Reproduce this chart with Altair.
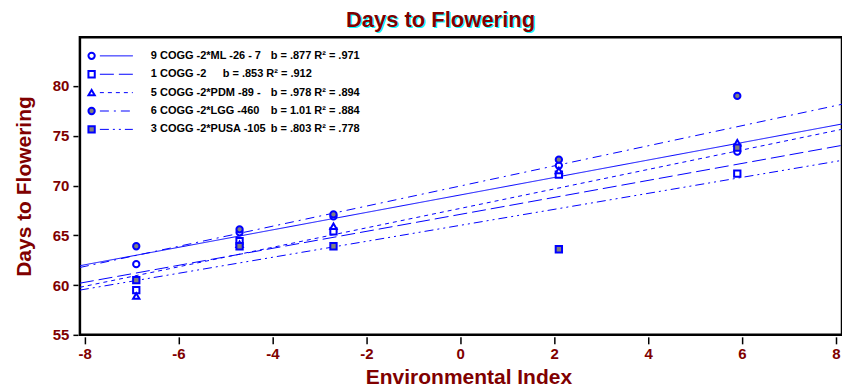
import altair as alt
import pandas as pd

# ---------------- data ----------------
env_index = [-6.9, -4.7, -2.7, 2.1, 5.9]
series_labels = [
    "9 COGG -2*ML -26 - 7",
    "1 COGG -2",
    "5 COGG -2*PDM -89 -",
    "6 COGG -2*LGG -460",
    "3 COGG -2*PUSA -105",
]
stat_labels = [
    "b =  .877  R\u00b2 =  .971",
    "b =  .853  R\u00b2 =  .912",
    "b =  .978  R\u00b2 =  .894",
    "b =  1.01  R\u00b2 =  .884",
    "b =  .803  R\u00b2 =  .778",
]
days_ml = [62.1, 65.3, 66.9, 72.0, 73.4]
days_cogg1 = [59.5, 64.4, 65.4, 71.1, 71.2]
days_pdm = [58.9, 64.1, 65.9, 71.5, 74.3]
days_lgg = [63.9, 65.6, 67.1, 72.6, 79.0]
days_pusa = [60.5, 63.9, 63.9, 63.6, 73.8]
slopes = [0.877, 0.853, 0.978, 1.01, 0.803]
intercepts = [69.05, 67.1, 67.7, 69.95, 66.0]
x_ticks = [-8, -6, -4, -2, 0, 2, 4, 6, 8]
y_ticks = [55, 60, 65, 70, 75, 80]

# ---------------- styles ----------------
x_domain = [-8.1, 8.13]
y_domain = [55, 84.9]
BLUE = "#0000ff"
RED = "#800000"
FONT = "Liberation Sans Narrow, Arial Narrow, Liberation Sans, sans-serif"
shapes = ["circle", "square", "triangle-up", "circle", "square"]
fills = ["white", "white", "white", "#808080", "#808080"]
dashes = [[1, 0], [14, 5], [4, 4], [9, 5, 2, 5], [9, 4, 2, 4, 2, 4]]
stat_x = [191, 143, 191, 191, 191]
HYPHEN_LABEL = "datum.value < 0 ? '-' + abs(datum.value) : '' + datum.value"

all_days = [days_ml, days_cogg1, days_pdm, days_lgg, days_pusa]
pts_rows = []
for name, vals in zip(series_labels, all_days):
    for xv, yv in zip(env_index, vals):
        pts_rows.append({"series": name, "x": xv, "y": yv})
points_df = pd.DataFrame(pts_rows)

line_rows = []
for name, a, b in zip(series_labels, intercepts, slopes):
    for xv in x_domain:
        line_rows.append({"series": name, "x": xv, "y": a + b * xv})
lines_df = pd.DataFrame(line_rows)

legend_df = pd.DataFrame({
    "row": list(range(len(series_labels))),
    "series": series_labels,
    "stat": stat_labels,
    "stat_x": stat_x,
})

xscale = alt.Scale(domain=x_domain, nice=False, zero=False)
yscale = alt.Scale(domain=y_domain, nice=False, zero=False)
shape_scale = alt.Scale(domain=series_labels, range=shapes)
fill_scale = alt.Scale(domain=series_labels, range=fills)
dash_scale = alt.Scale(domain=series_labels, range=dashes)
row_scale = alt.Scale(domain=[0, 4], range=[18.7, 92.3])

xaxis = alt.Axis(values=x_ticks, grid=False, domain=False, tickColor="black",
                 tickSize=7, tickWidth=1.5, offset=2, labelFont=FONT,
                 labelFontSize=15, labelFontWeight="bold", labelColor=RED,
                 labelPadding=3, labelExpr=HYPHEN_LABEL, titleFont=FONT,
                 titleFontSize=21, titleFontWeight="bold", titleColor=RED,
                 titlePadding=5, titleX=389)
yaxis = alt.Axis(values=y_ticks, grid=False, domain=False, tickColor="black",
                 tickSize=5, tickWidth=1.5, offset=2, labelFont=FONT,
                 labelFontSize=15, labelFontWeight="bold", labelColor=RED,
                 labelPadding=4, titleFont=FONT, titleFontSize=21,
                 titleFontWeight="bold", titleColor=RED, titlePadding=18)

lines = alt.Chart(lines_df).mark_line(color=BLUE, strokeWidth=1, clip=True).encode(
    x=alt.X("x:Q", scale=xscale, axis=None),
    y=alt.Y("y:Q", scale=yscale, axis=None),
    strokeDash=alt.StrokeDash("series:N", scale=dash_scale, legend=None),
)

points = alt.Chart(points_df).mark_point(filled=True, size=40, stroke=BLUE,
                                        strokeWidth=2, opacity=1).encode(
    x=alt.X("x:Q", scale=xscale, axis=xaxis, title="Environmental Index"),
    y=alt.Y("y:Q", scale=yscale, axis=yaxis, title="Days to Flowering"),
    shape=alt.Shape("series:N", scale=shape_scale, legend=None),
    fill=alt.Fill("series:N", scale=fill_scale, legend=None),
)

leg_marks = alt.Chart(legend_df).mark_point(filled=True, size=40, stroke=BLUE,
                                           strokeWidth=2, opacity=1).encode(
    x=alt.value(11.7),
    y=alt.Y("row:Q", scale=row_scale, axis=None),
    shape=alt.Shape("series:N", scale=shape_scale, legend=None),
    fill=alt.Fill("series:N", scale=fill_scale, legend=None),
)
leg_lines = alt.Chart(legend_df).mark_rule(color=BLUE, strokeWidth=1).encode(
    x=alt.value(20), x2=alt.value(53),
    y=alt.Y("row:Q", scale=row_scale, axis=None),
    strokeDash=alt.StrokeDash("series:N", scale=dash_scale, legend=None),
)
leg_text = alt.Chart(legend_df).mark_text(align="left", baseline="middle", font=FONT,
                                         fontSize=11, fontWeight="bold",
                                         color="black").encode(
    x=alt.value(71),
    y=alt.Y("row:Q", scale=row_scale, axis=None),
    text="series:N",
)
leg_stats = alt.Chart(legend_df).mark_text(align="left", baseline="middle", font=FONT,
                                          fontSize=11, fontWeight="bold",
                                          color="black").encode(
    x=alt.X("stat_x:Q", scale=None, axis=None),
    y=alt.Y("row:Q", scale=row_scale, axis=None),
    text="stat:N",
)

title_df = pd.DataFrame({"t": ["Days to Flowering"]})
title_shadow = alt.Chart(title_df).mark_text(align="center", baseline="top",
                                            font=FONT, fontSize=22, fontWeight="bold",
                                            color="#00ffff", dx=1, dy=1).encode(
    x=alt.value(361), y=alt.value(-27), text="t:N")
title_main = alt.Chart(title_df).mark_text(align="center", baseline="top",
                                          font=FONT, fontSize=22, fontWeight="bold",
                                          color=RED).encode(
    x=alt.value(361), y=alt.value(-27), text="t:N")

chart = alt.layer(
    lines, points, leg_lines, leg_marks, leg_text, leg_stats, title_shadow, title_main
).resolve_scale(x="independent", y="independent").properties(
    width=763, height=298,
    autosize=alt.AutoSizeParams(type="none"),
    padding={"left": 72, "top": 29, "right": 0, "bottom": 56},
    background="white",
).configure_view(stroke="black", strokeWidth=2.5)

chart.save("out.html", embed_options={"renderer": "svg", "actions": False})
